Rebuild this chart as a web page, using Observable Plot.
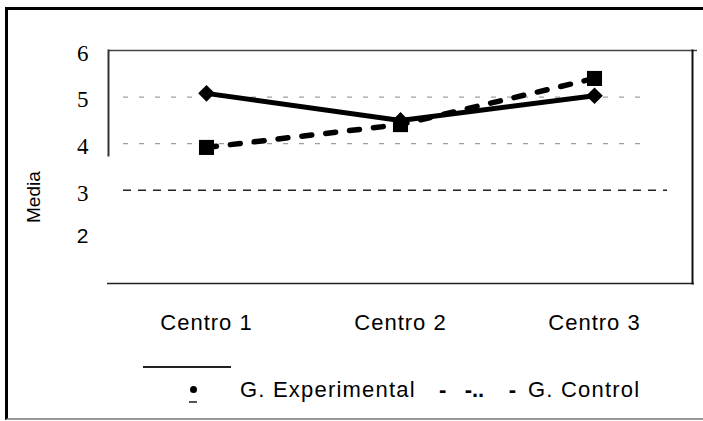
<!DOCTYPE html>
<html>
<head>
<meta charset="utf-8">
<script src="https://cdn.jsdelivr.net/npm/d3@7"></script>
<script src="https://cdn.jsdelivr.net/npm/@observablehq/plot@0.6"></script>
<style>
  html, body { margin: 0; padding: 0; background: #fff; overflow: hidden; }
  #page { position: relative; width: 703px; height: 421px; overflow: hidden; background: #fff; font-family: "Liberation Sans", Arial, sans-serif; color: #000; }
  #border { position: absolute; left: 5px; top: 7px; width: 760px; height: 413px; box-sizing: border-box; border-left: 3px solid #000; border-top: 3px solid #000; border-bottom: 2px solid #999; border-right: 0; }
  #chart { position: absolute; left: 0; top: 0; }
  #chart svg [aria-label="x-axis tick label"] { letter-spacing: 1px; }
  .leg { position: absolute; font-size: 22px; line-height: 22px; letter-spacing: 1.2px; white-space: pre; color: #000; }
</style>
</head>
<body>
<div id="page">
  <div id="border"></div>
  <div id="chart"></div>
  <div style="position:absolute;left:143px;top:366px;width:88px;height:1.5px;background:#222"></div>
  <div style="position:absolute;left:190px;top:386px;width:7px;height:7px;border-radius:50%;background:#000"></div>
  <div style="position:absolute;left:189px;top:401px;width:8px;height:1.5px;background:#555"></div>
  <div class="leg" id="legExp" style="left:240px;top:379px"></div>
  <div class="leg" style="left:439px;top:379px;font-weight:bold;letter-spacing:0">-   -..    -</div>
  <div class="leg" id="legCtrl" style="left:528px;top:379px"></div>
</div>
<script>
const centros = ["Centro 1", "Centro 2", "Centro 3"];
const experimental = [5.08, 4.5, 5.03];
const control = [3.92, 4.41, 5.4];
const seriesNames = ["G. Experimental", "G. Control"];
const yTicksSerif = [3, 4, 5, 6];
const yTicksSans = [2];
const gridMinor = [4, 5];
const gridMajor = [3];
const yLabel = "Media";

const expData = centros.map((c, i) => ({centro: c, v: experimental[i]}));
const ctrlData = centros.map((c, i) => ({centro: c, v: control[i]}));

document.getElementById("legExp").textContent = seriesNames[0];
document.getElementById("legCtrl").textContent = seriesNames[1];

const chart = Plot.plot({
  width: 703,
  height: 350,
  marginLeft: 108,
  marginRight: 11,
  marginTop: 50,
  marginBottom: 67,
  style: {background: "transparent", color: "#000", overflow: "visible"},
  x: {type: "point", domain: centros, padding: 0.5},
  y: {domain: [1, 6], axis: null},
  marks: [
    Plot.ruleY(gridMinor, {stroke: "#888", strokeWidth: 1, strokeDasharray: "5,11", insetLeft: 15, insetRight: 44}),
    Plot.ruleY(gridMajor, {stroke: "#222", strokeWidth: 1.5, strokeDasharray: "8,7", insetLeft: 15, insetRight: 25}),
    Plot.ruleY([6], {stroke: "#444", strokeWidth: 1.5, insetRight: -5}),
    Plot.ruleY([1], {stroke: "#222", strokeWidth: 1.5, insetLeft: -1, insetRight: -2}),
    Plot.frame({anchor: "right", stroke: "#111", strokeWidth: 2}),
    Plot.frame({anchor: "left", stroke: "#333", strokeWidth: 2, insetBottom: 128}),
    Plot.line(expData, {x: "centro", y: "v", stroke: "#000", strokeWidth: 5}),
    Plot.line(ctrlData, {x: "centro", y: "v", stroke: "#000", strokeWidth: 5.5, strokeDasharray: "10,14"}),
    Plot.dot(expData, {x: "centro", y: "v", symbol: "diamond2", r: 7.5, fill: "#000", stroke: "none"}),
    Plot.dot(ctrlData, {x: "centro", y: "v", symbol: "square", r: 8.5, fill: "#000", stroke: "none"}),
    Plot.axisX({tickSize: 0, tickPadding: 31, fontSize: 22, fontFamily: "Liberation Sans", label: null}),
    Plot.text(yTicksSerif, {y: d => d, frameAnchor: "left", dx: -20, dy: 3, textAnchor: "end", fontSize: 23, fontFamily: "'Liberation Serif', 'Times New Roman', serif", fill: "#000"}),
    Plot.text(yTicksSans, {y: d => d, frameAnchor: "left", dx: -20, dy: -1, textAnchor: "end", fontSize: 21, fontFamily: "'Liberation Sans', Arial, sans-serif", fill: "#000"}),
    Plot.text([yLabel], {frameAnchor: "left", dx: -75, dy: 56, rotate: -90, fontSize: 19, fontFamily: "'Liberation Sans', Arial, sans-serif", fill: "#000"})
  ]
});
document.getElementById("chart").appendChild(chart);
</script>
</body>
</html>
